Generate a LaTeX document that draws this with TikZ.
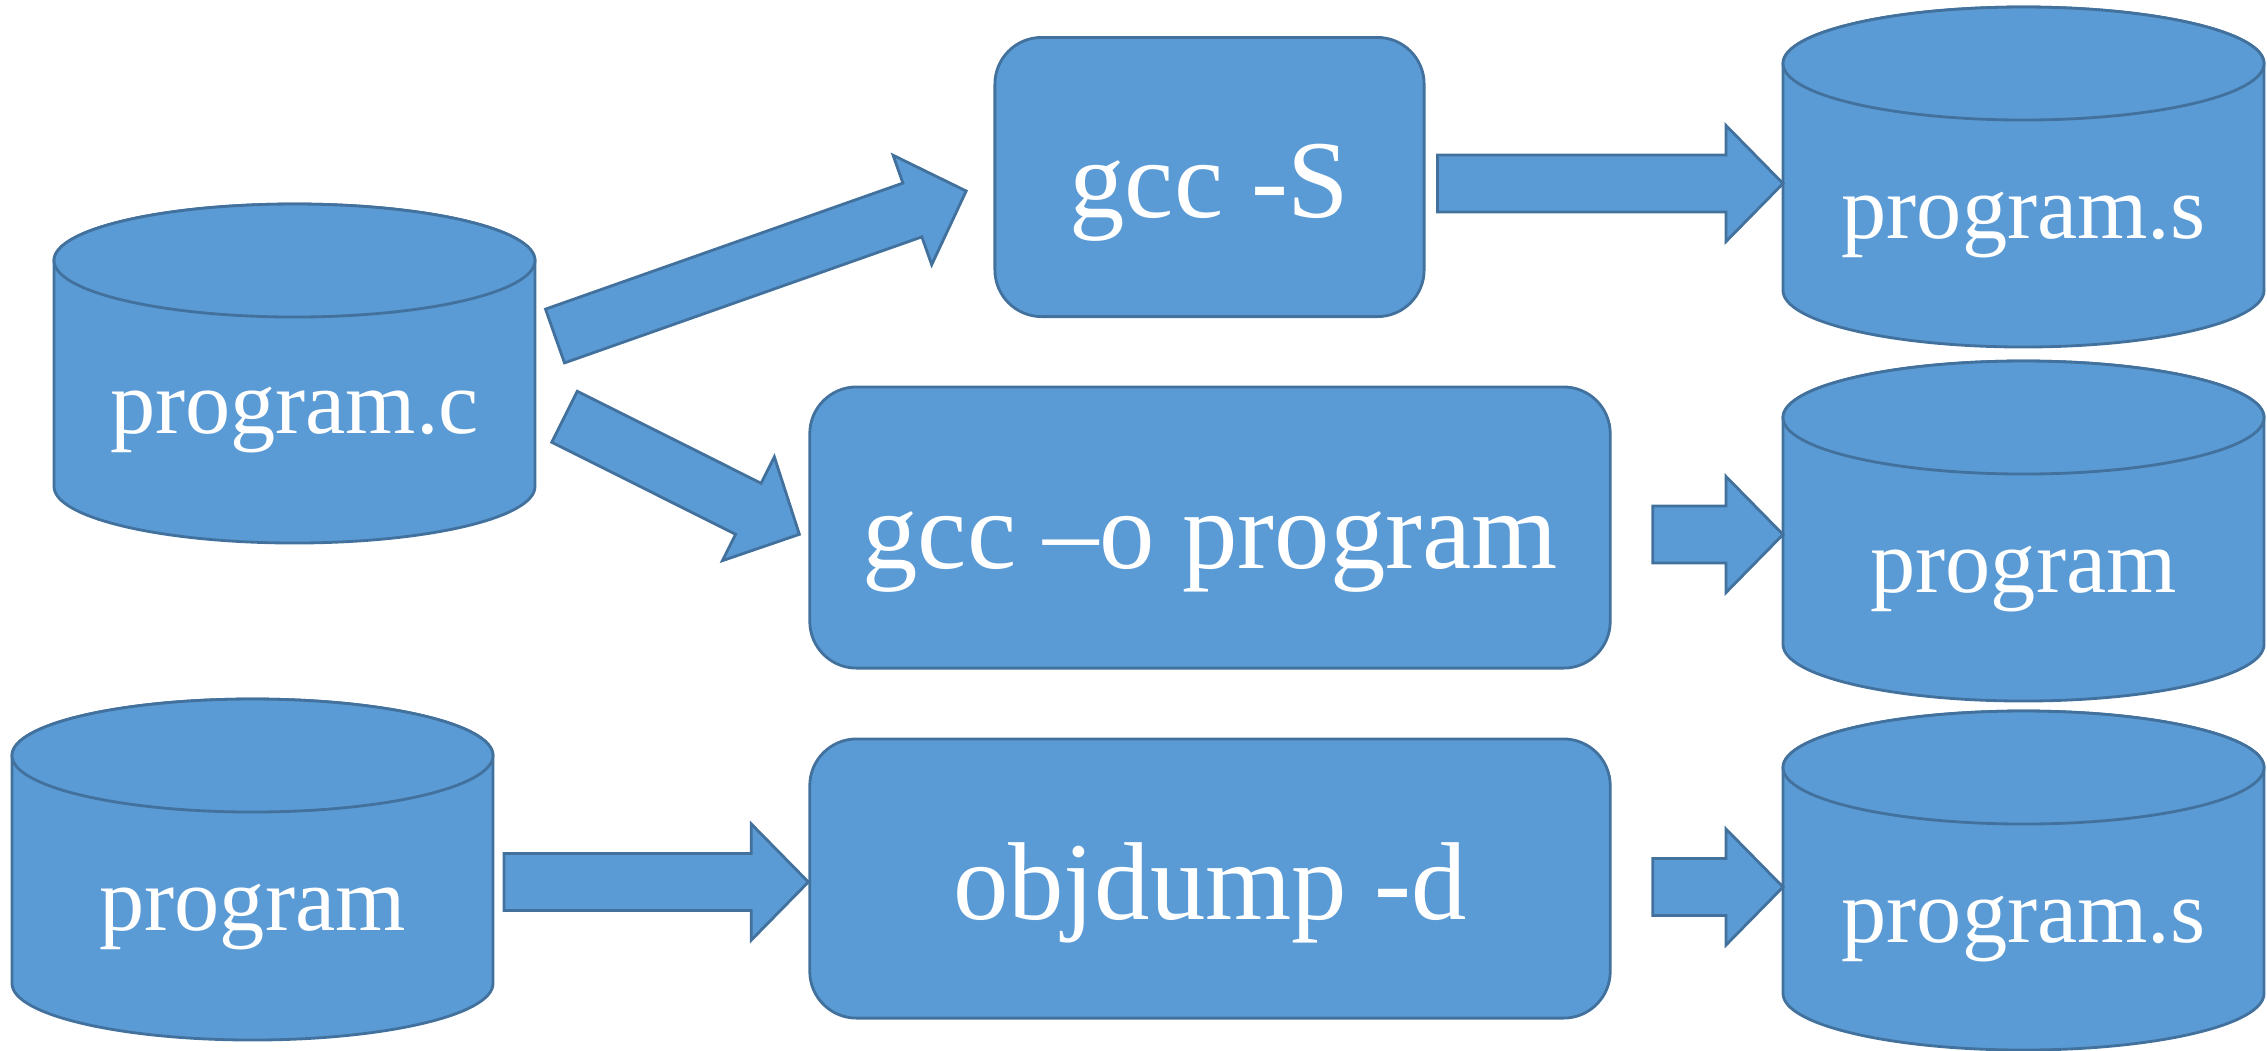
\documentclass[tikz,border=0pt]{standalone}
\usepackage{fontspec}
\setmainfont{Liberation Serif}
\usetikzlibrary{calc}

\definecolor{shapefill}{HTML}{5B9BD5}
\definecolor{shapeline}{HTML}{41719C}

\tikzset{
  drum/.style={fill=shapefill, draw=shapeline, line width=0.8pt, line join=miter},
  cmdbox/.style={drum, rounded corners=0.467cm, inner sep=0pt},
  filetext/.style={text=white, inner sep=0pt, anchor=base,
    font=\fontsize{25.7}{30}\selectfont},
  cmdtext/.style={text=white, inner sep=0pt, anchor=base,
    font=\fontsize{31.5}{38}\selectfont},
  frame/.style={inner sep=0pt, outer sep=0pt},
}

% file drum: name, left x, right x, top y, bottom y, baseline y, label
\newcommand\filedrum[7]{%
  \pgfmathsetmacro\drx{(#3-#2)/2}%
  \pgfmathsetmacro\dcx{(#3+#2)/2}%
  \pgfmathsetmacro\dcy{(#4+#5)/2}%
  \pgfmathsetmacro\dyt{#4+56.5}%
  \pgfmathsetmacro\dyb{#5-56.5}%
  \path[drum] (#2,\dyt) -- (#2,\dyb)
    arc[start angle=180, end angle=0, x radius=\drx, y radius=56.5]
    -- (#3,\dyt)
    arc[start angle=0, end angle=-180, x radius=\drx, y radius=56.5] -- cycle;
  \path[drum] (\dcx,\dyt) ellipse[x radius=\drx, y radius=56.5];
  \node[frame, minimum width={(#3-#2)*0.01cm}, minimum height={(#5-#4)*0.01cm}]
    (#1) at (\dcx,\dcy) {};
  \node[filetext] (#1-label) at (\dcx,#6) {#7};
}

% block arrow between two named coordinates (tail, tip)
\newcommand\blockarrow[2]{%
  \coordinate (#2-base) at ($(#2)!0.57cm!(#1)$);
  \path[drum]
    ($(#1)!0.285cm!90:(#2)$) --
    ($(#2-base)!0.285cm!90:(#2)$) --
    ($(#2-base)!0.58cm!90:(#2)$) --
    (#2) --
    ($(#2-base)!0.58cm!-90:(#2)$) --
    ($(#2-base)!0.285cm!-90:(#2)$) --
    ($(#1)!0.285cm!-90:(#2)$) -- cycle;
}

\begin{document}
\begin{tikzpicture}[x=0.01cm, y=-0.01cm]
  \useasboundingbox (0,0) rectangle (2267,1050);

  % source and result files
  \filedrum{src}{54}{535}{204}{543}{433}{program.c}
  \filedrum{asmA}{1783}{2264}{7}{347}{238}{program.s}
  \filedrum{exeA}{1783}{2264}{361}{701}{592}{program}
  \filedrum{exeB}{12}{493}{699}{1040}{930}{program}
  \filedrum{asmB}{1783}{2264}{711}{1050}{942}{program.s}

  % commands
  \node[cmdbox, minimum width=4.29cm, minimum height=2.79cm] (gccS) at (1209.5,177) {};
  \node[cmdtext] (gccS-label) at (1209.5,217.5) {gcc -S};
  \node[cmdbox, minimum width=8cm, minimum height=2.81cm] (gccO) at (1210,527.5) {};
  \node[cmdtext] (gccO-label) at (1210,568) {gcc –o program};
  \node[cmdbox, minimum width=8cm, minimum height=2.79cm] (objd) at (1210,878.5) {};
  \node[cmdtext] (objd-label) at (1210,919) {objdump -d};

  % arrow ends
  \coordinate (t1) at ($(src.east)+(20,-37.5)$);
  \coordinate (h1) at ($(gccS.west)+(-27.3,14)$);
  \coordinate (t2) at ($(src.east)+(29.5,43.2)$);
  \coordinate (h2) at ($(gccO.west)+(-9,6.8)$);
  \coordinate (t3) at ($(gccS.east)+(12,6.5)$);
  \coordinate (h3) at ($(asmA.west)+(0,6.5)$);
  \coordinate (t4) at ($(gccO.east)+(41,7)$);
  \coordinate (h4) at ($(exeA.west)+(0,3.5)$);
  \coordinate (t5) at ($(exeB.east)+(11,12.5)$);
  \coordinate (h5) at ($(objd.west)+(0,3.5)$);
  \coordinate (t6) at ($(objd.east)+(41,8.5)$);
  \coordinate (h6) at ($(asmB.west)+(0,6.5)$);

  \blockarrow{t1}{h1}
  \blockarrow{t2}{h2}
  \blockarrow{t3}{h3}
  \blockarrow{t4}{h4}
  \blockarrow{t5}{h5}
  \blockarrow{t6}{h6}
\end{tikzpicture}
\end{document}
